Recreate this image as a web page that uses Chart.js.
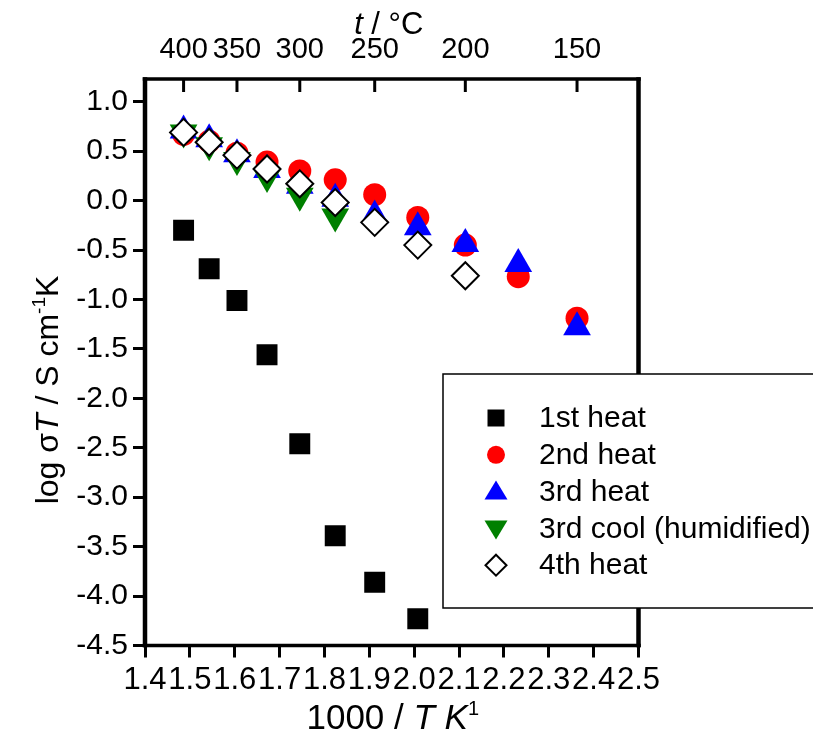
<!DOCTYPE html>
<html>
<head>
<meta charset="utf-8">
<script src="https://cdn.jsdelivr.net/npm/chart.js@4.4.1/dist/chart.umd.min.js"></script>
<style>
  html, body { margin: 0; padding: 0; background: #fff; }
  #wrap { position: relative; width: 813px; height: 739px; }
</style>
</head>
<body>
<div id="wrap"><canvas id="plot"></canvas></div>
<script>
// 1000/T of the measuring points (400, 375, ... 150 °C)
const invT = [1.486, 1.543, 1.605, 1.672, 1.745, 1.824, 1.912, 2.008, 2.114, 2.232, 2.363];

// log(sigma T)
const heat1 = [-0.30, -0.69, -1.01, -1.56, -2.46, -3.39, -3.86, -4.23];
const heat2 = [0.67, 0.60, 0.48, 0.39, 0.30, 0.21, 0.06, -0.17, -0.45, -0.77, -1.19];
const heat3 = [0.71, 0.62, 0.47, 0.31, 0.15, 0.02, -0.15, -0.27, -0.44, -0.64, -1.28];
const cool3 = [0.69, 0.56, 0.41, 0.24, 0.05, -0.16];
const heat4 = [0.69, 0.59, 0.46, 0.32, 0.17, -0.02, -0.22, -0.45, -0.76];

const seriesNames = ['1st heat', '2nd heat', '3rd heat', '3rd cool (humidified)', '4th heat'];

// axis ticks
const xTicks = [1.4, 1.5, 1.6, 1.7, 1.8, 1.9, 2.0, 2.1, 2.2, 2.3, 2.4, 2.5];
const yTicks = [-4.5, -4.0, -3.5, -3.0, -2.5, -2.0, -1.5, -1.0, -0.5, 0.0, 0.5, 1.0];
const topTickLabels = ['400', '350', '300', '250', '200', '150'];
const topTickPos = [1.486, 1.605, 1.745, 1.912, 2.114, 2.363];

const FONT = '"Liberation Sans", Arial, sans-serif';

function pts(vals) {
    return vals.map((v, i) => ({ x: invT[i], y: v }));
}

// marker for the legend box
function legendMark(ctx, kind, x, y) {
    ctx.beginPath();
    if (kind === 'square') {
        ctx.rect(x - 8.5, y - 8.5, 17, 17);
        ctx.fillStyle = '#000'; ctx.fill();
    } else if (kind === 'circle') {
        ctx.arc(x, y, 9, 0, Math.PI * 2);
        ctx.fillStyle = '#ff0000'; ctx.fill();
    } else if (kind === 'up') {
        ctx.moveTo(x, y - 11); ctx.lineTo(x + 11.5, y + 8); ctx.lineTo(x - 11.5, y + 8); ctx.closePath();
        ctx.fillStyle = '#0000ff'; ctx.fill();
    } else if (kind === 'down') {
        ctx.moveTo(x, y + 11); ctx.lineTo(x + 11.5, y - 8); ctx.lineTo(x - 11.5, y - 8); ctx.closePath();
        ctx.fillStyle = '#008000'; ctx.fill();
    } else {
        ctx.moveTo(x, y - 10.5); ctx.lineTo(x + 10.5, y); ctx.lineTo(x, y + 10.5); ctx.lineTo(x - 10.5, y); ctx.closePath();
        ctx.fillStyle = '#fff'; ctx.fill();
        ctx.lineWidth = 2; ctx.strokeStyle = '#000'; ctx.stroke();
    }
}

function richWidth(ctx, segs) {
    let w = 0;
    segs.forEach(s => { ctx.font = s.font; w += ctx.measureText(s.text).width; });
    return w;
}

function drawRich(ctx, segs, cx, baseY) {
    let x = cx - richWidth(ctx, segs) / 2;
    segs.forEach(s => {
        ctx.font = s.font;
        ctx.fillText(s.text, x, baseY - (s.rise || 0));
        x += ctx.measureText(s.text).width;
    });
}

const framePlugin = {
    id: 'frame',
    afterDraw(chart) {
        const ctx = chart.ctx;
        const a = chart.chartArea;
        ctx.save();
        ctx.fillStyle = '#000';
        // axis frame
        ctx.fillRect(a.left - 2.25, a.top - 1.75, a.right - a.left + 4.5, 3.5);
        ctx.fillRect(a.left - 2.25, a.bottom - 1.75, a.right - a.left + 4.5, 3.5);
        ctx.fillRect(a.left - 2.25, a.top - 1.75, 4.5, a.bottom - a.top + 3.5);
        ctx.fillRect(a.right - 2.25, a.top - 1.75, 4.5, a.bottom - a.top + 3.5);

        // inward ticks of the temperature axis
        const top = chart.scales.xTop;
        ctx.strokeStyle = '#000';
        ctx.lineWidth = 3;
        top.ticks.forEach(t => {
            const px = top.getPixelForValue(t.value);
            ctx.beginPath();
            ctx.moveTo(px, a.top);
            ctx.lineTo(px, a.top + 13);
            ctx.stroke();
        });

        // axis titles
        ctx.fillStyle = '#000';
        ctx.textBaseline = 'alphabetic';
        ctx.textAlign = 'left';
        const cx = (a.left + a.right) / 2;
        drawRich(ctx, [
            { text: 't', font: 'italic 31px ' + FONT },
            { text: ' / \u00B0C', font: '31px ' + FONT }
        ], cx - 3, 34);
        drawRich(ctx, [
            { text: '1000 / ', font: '35px ' + FONT },
            { text: 'T', font: 'italic 35px ' + FONT },
            { text: ' ', font: '35px ' + FONT },
            { text: 'K', font: 'italic 35px ' + FONT },
            { text: '1', font: '20px ' + FONT, rise: 14 }
        ], cx + 1, 729);

        ctx.save();
        ctx.translate(58, 390);
        ctx.rotate(-Math.PI / 2);
        drawRich(ctx, [
            { text: 'log ', font: '32px ' + FONT },
            { text: '\u03C3', font: '32px ' + FONT },
            { text: 'T', font: 'italic 32px ' + FONT },
            { text: ' / S cm', font: '32px ' + FONT },
            { text: '-1', font: '19px ' + FONT, rise: 13 },
            { text: 'K', font: '32px ' + FONT }
        ], 0, 0);
        ctx.restore();

        // legend box
        ctx.fillStyle = '#fff';
        ctx.fillRect(443, 374, 380, 234);
        ctx.lineWidth = 1.5;
        ctx.strokeStyle = '#000';
        ctx.strokeRect(443, 374, 380, 234);
        const kinds = ['square', 'circle', 'up', 'down', 'diamond'];
        ctx.font = '30px ' + FONT;
        ctx.textBaseline = 'middle';
        seriesNames.forEach((name, i) => {
            const y = 418 + i * 36.8;
            legendMark(ctx, kinds[i], 496, y);
            ctx.fillStyle = '#000';
            ctx.fillText(name, 539, y + 1);
        });
        ctx.restore();
    }
};

const ctx = document.getElementById('plot').getContext('2d');
const chart = new Chart(ctx, {
    type: 'scatter',
    data: {
        datasets: [
            { label: seriesNames[0], data: pts(heat1), order: 4, pointStyle: 'rect', pointRadius: 14.8,
              pointBackgroundColor: '#000', pointBorderColor: '#000', pointBorderWidth: 0 },
            { label: seriesNames[1], data: pts(heat2), order: 3, pointStyle: 'circle', pointRadius: 11.5,
              pointBackgroundColor: '#ff0000', pointBorderColor: '#ff0000', pointBorderWidth: 0 },
            { label: seriesNames[2], data: pts(heat3), order: 2, pointStyle: 'triangle', pointRadius: 16,
              pointBackgroundColor: '#0000ff', pointBorderColor: '#0000ff', pointBorderWidth: 0 },
            { label: seriesNames[3], data: pts(cool3), order: 1, pointStyle: 'triangle', pointRotation: 180, pointRadius: 16,
              pointBackgroundColor: '#008000', pointBorderColor: '#008000', pointBorderWidth: 0 },
            { label: seriesNames[4], data: pts(heat4), order: 0, pointStyle: 'rectRot', pointRadius: 13.5,
              pointBackgroundColor: '#fff', pointBorderColor: '#000', pointBorderWidth: 2 }
        ].map(d => Object.assign(d, { xAxisID: 'x', yAxisID: 'y', showLine: false, pointHoverRadius: d.pointRadius }))
    },
    options: {
        responsive: true,
        maintainAspectRatio: false,
        animation: false,
        events: [],
        layout: { padding: { left: 0, right: 174.5, top: 0, bottom: 0 } },
        plugins: { legend: { display: false }, tooltip: { enabled: false } },
        scales: {
            x: {
                type: 'linear', position: 'bottom', min: 1.4, max: 2.5,
                afterBuildTicks: s => { s.ticks = xTicks.map(v => ({ value: v })); },
                afterFit: s => { s.height = 93.5; },
                ticks: { color: '#000', font: { family: FONT, size: 31 }, padding: 4, autoSkip: false,
                         maxRotation: 0, minRotation: 0, callback: v => v.toFixed(1) },
                grid: { display: true, drawOnChartArea: false, drawTicks: true, tickLength: 12, tickWidth: 3, tickColor: '#000' },
                border: { display: false }
            },
            xTop: {
                type: 'linear', axis: 'x', position: 'top', min: 1.4, max: 2.5,
                afterBuildTicks: s => { s.ticks = topTickPos.map(v => ({ value: v })); },
                afterFit: s => { s.height = 79; },
                ticks: { color: '#000', font: { family: FONT, size: 29 }, padding: 4, autoSkip: false,
                         maxRotation: 0, minRotation: 0, callback: (v, i) => topTickLabels[i] },
                grid: { display: false },
                border: { display: false }
            },
            y: {
                type: 'linear', position: 'left', min: -4.5, max: 1.23,
                afterBuildTicks: s => { s.ticks = yTicks.map(v => ({ value: v })); },
                afterFit: s => { s.width = 145; },
                ticks: { color: '#000', font: { family: FONT, size: 30 }, padding: 5, callback: v => v.toFixed(1) },
                grid: { display: true, drawOnChartArea: false, drawTicks: true, tickLength: 12, tickWidth: 3, tickColor: '#000' },
                border: { display: false }
            }
        }
    },
    plugins: [framePlugin]
});
</script>
</body>
</html>
